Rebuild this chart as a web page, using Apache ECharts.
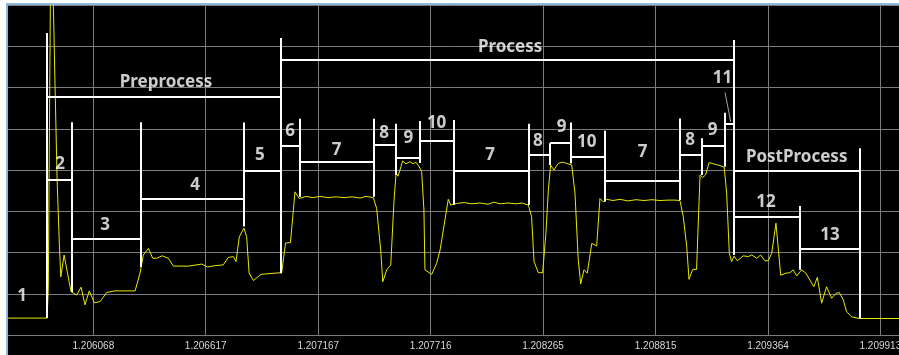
<!DOCTYPE html>
<html>
<head>
<meta charset="utf-8">
<title>Execution phases</title>
<script src="https://cdn.jsdelivr.net/npm/echarts@6/dist/echarts.min.js"></script>
<style>
  html, body { margin: 0; padding: 0; background: #ffffff; width: 899px; height: 355px; overflow: hidden; }
  #frame { position: absolute; left: 6px; top: 3px; border-left: 2px solid #8cb8de; border-top: 2px solid #8cb8de; background: #000; }
  #chart { width: 891px; height: 352px; }
</style>
</head>
<body>
<div id="frame"><div id="chart"></div></div>
<script>
// Time axis in microseconds; tick labels shown in seconds.
const tickLabels = ['1.206068', '1.206617', '1.207167', '1.207716', '1.208265', '1.208815', '1.209364', '1.209913'];
const tickValues = tickLabels.map(s => Math.round(parseFloat(s) * 1e6));
const timeMin = 1205651;
const timeMax = 1210004;

// Measured trace: [time (us), level]
const signal = [
  [1205651, 4.1], [1205842, 4.1], [1205848, 11.6], [1205859, 88.5], [1205869, 88.5], [1205881, 60.1],
  [1205891, 37.6], [1205902, 21.8], [1205909, 14.1], [1205925, 19.4], [1205959, 10.5], [1205987, 9.7],
  [1206008, 11.6], [1206027, 7.3], [1206048, 10.7], [1206073, 7.8], [1206101, 8.1], [1206133, 10.3],
  [1206174, 10.7], [1206223, 10.7], [1206272, 10.7], [1206296, 15.0], [1206312, 19.4], [1206337, 21.0],
  [1206358, 18.6], [1206378, 18.6], [1206404, 19.2], [1206434, 18.6], [1206459, 16.7], [1206532, 16.7],
  [1206598, 17.2], [1206625, 16.5], [1206662, 16.8], [1206703, 17.0], [1206727, 18.8], [1206752, 19.0],
  [1206765, 17.8], [1206781, 23.8], [1206804, 25.9], [1206817, 23.8], [1206829, 15.0], [1206850, 13.2],
  [1206887, 14.7], [1206956, 15.0], [1206988, 15.1], [1207007, 22.3], [1207031, 22.4], [1207053, 34.7],
  [1207074, 33.1], [1207107, 33.6], [1207141, 33.3], [1207175, 33.6], [1207214, 33.3], [1207254, 33.5],
  [1207293, 33.3], [1207332, 33.5], [1207371, 33.2], [1207400, 33.6], [1207436, 33.3], [1207452, 30.7],
  [1207472, 20.6], [1207482, 12.9], [1207501, 15.8], [1207521, 17.0], [1207537, 32.7], [1207547, 39.2],
  [1207556, 38.5], [1207566, 40.0], [1207579, 42.2], [1207595, 41.5], [1207615, 42.0], [1207630, 41.5],
  [1207644, 41.9], [1207660, 40.8], [1207672, 39.6], [1207683, 30.3], [1207688, 15.8], [1207721, 14.7],
  [1207745, 17.4], [1207762, 20.6], [1207802, 32.9], [1207814, 31.5], [1207843, 31.9], [1207879, 32.1],
  [1207918, 31.8], [1207957, 32.0], [1207996, 31.7], [1208025, 32.2], [1208055, 31.8], [1208094, 32.0],
  [1208133, 31.8], [1208162, 32.0], [1208193, 31.5], [1208209, 28.7], [1208221, 17.8], [1208242, 15.1],
  [1208263, 15.1], [1208279, 24.7], [1208291, 35.2], [1208302, 41.2], [1208318, 40.0], [1208339, 41.6],
  [1208361, 41.9], [1208380, 41.6], [1208405, 41.2], [1208421, 34.4], [1208437, 18.2], [1208449, 12.4],
  [1208465, 15.8], [1208481, 15.0], [1208503, 22.2], [1208527, 21.6], [1208543, 33.1], [1208559, 32.3],
  [1208576, 32.9], [1208607, 32.6], [1208641, 32.9], [1208680, 32.5], [1208719, 32.8], [1208758, 32.6],
  [1208797, 32.8], [1208836, 32.6], [1208875, 32.7], [1208909, 32.7], [1208934, 32.6], [1208950, 28.7],
  [1208967, 21.4], [1208978, 13.5], [1208996, 15.9], [1209015, 15.9], [1209032, 38.8], [1209045, 38.2],
  [1209059, 38.8], [1209076, 41.8], [1209097, 41.5], [1209121, 41.2], [1209150, 40.7], [1209162, 34.4],
  [1209175, 19.8], [1209186, 17.8], [1209198, 19.1], [1209214, 18.0], [1209243, 19.2], [1209268, 19.0],
  [1209284, 19.4], [1209309, 18.6], [1209328, 19.4], [1209349, 18.0], [1209365, 18.0], [1209382, 19.8],
  [1209403, 27.1], [1209426, 14.5], [1209452, 15.0], [1209471, 15.1], [1209487, 15.8], [1209504, 14.3],
  [1209528, 15.8], [1209549, 15.0], [1209569, 13.3], [1209588, 11.7], [1209605, 14.0], [1209626, 7.7],
  [1209650, 11.7], [1209675, 8.9], [1209696, 10.1], [1209712, 10.3], [1209732, 8.5], [1209748, 5.6],
  [1209773, 4.4], [1209810, 4.0], [1210004, 4.0]
];

// Phase spans: [start (us), end (us), bracket level]
const stepSpans = [
  [1205842, 1205964, 37.6], [1205964, 1206300, 23.3], [1206300, 1206801, 33.1], [1206801, 1206985, 39.8],
  [1206985, 1207074, 45.9], [1207074, 1207436, 42.0], [1207436, 1207545, 46.2], [1207545, 1207664, 43.0],
  [1207664, 1207831, 47.0], [1207831, 1208196, 39.8], [1208196, 1208299, 43.6], [1208299, 1208401, 46.5],
  [1208401, 1208568, 43.1], [1208568, 1208934, 37.4], [1208934, 1209040, 43.6], [1209040, 1209152, 45.8],
  [1209152, 1209198, 51.3], [1209198, 1209520, 28.7], [1209520, 1209810, 21.0]
];
const groupSpans = [
  [1205842, 1206985, 57.7],   // Preprocess
  [1206985, 1209198, 66.7],   // Process
  [1209198, 1209810, 39.8]    // PostProcess
];

// Phase boundaries: [time (us), top, bottom]
const boundaries = [
  [1205842, 73.2, 4.1], [1205964, 51.6, 10.4], [1206300, 51.6, 16.5], [1206801, 51.5, 26.3],
  [1206985, 72.0, 15.0], [1207074, 52.4, 33.5], [1207436, 52.4, 33.5], [1207545, 51.2, 38.8],
  [1207664, 51.9, 41.7], [1207831, 52.1, 31.5], [1208196, 51.2, 31.5], [1208299, 46.5, 41.2],
  [1208401, 51.5, 41.6], [1208568, 49.5, 32.3], [1208934, 52.5, 32.7], [1209040, 47.7, 38.8],
  [1209152, 53.9, 40.8], [1209198, 71.5, 19.4], [1209520, 31.3, 15.8], [1209810, 45.3, 4.0]
];

// Phase names: [text, time (us), level]
const phaseLabels = [
  ['1', 1205720, 9.5], ['2', 1205905, 41.5], ['3', 1206125, 26.7], ['4', 1206565, 36.4], ['5', 1206882, 43.6],
  ['Preprocess', 1206423, 61.3], ['Process', 1208104, 69.8],
  ['6', 1207029, 49.3], ['7', 1207257, 44.8], ['8', 1207489, 49.0], ['9', 1207607, 47.8], ['10', 1207745, 51.4],
  ['7', 1208006, 43.6], ['8', 1208240, 47.0], ['9', 1208356, 50.5], ['10', 1208478, 46.8],
  ['7', 1208752, 44.4], ['8', 1208983, 47.3], ['9', 1209094, 49.7], ['11', 1209142, 62.2],
  ['PostProcess', 1209504, 43.2], ['12', 1209354, 32.3], ['13', 1209667, 24.2]
];

// Pointer from the "11" label to its short span
const pointer11 = [[1209154, 58.8], [1209182, 51.7]];

const bracketSegments = [];
stepSpans.concat(groupSpans).forEach(([a, b, lv]) => bracketSegments.push({ coords: [[a, lv], [b, lv]] }));
boundaries.forEach(([t, top, bottom]) => bracketSegments.push({ coords: [[t, top], [t, bottom]] }));

const chart = echarts.init(document.getElementById('chart'), null, { renderer: 'canvas' });
chart.setOption({
  backgroundColor: '#000000',
  animation: false,
  grid: { left: 0, right: 0, top: 0, bottom: 22, containLabel: false, outerBoundsMode: 'none' },
  xAxis: {
    type: 'value',
    min: timeMin,
    max: timeMax,
    axisLine: { show: false },
    axisTick: { show: false, customValues: tickValues },
    splitLine: { show: true, lineStyle: { color: '#7c7c7c', width: 1 } },
    axisLabel: {
      customValues: tickValues,
      formatter: v => tickLabels[tickValues.indexOf(v)],
      color: '#d8d8d8',
      fontSize: 10,
      fontFamily: 'Liberation Sans',
      margin: 6
    }
  },
  yAxis: {
    type: 'value',
    min: 0,
    max: 80,
    interval: 10,
    axisLine: { show: false },
    axisTick: { show: false },
    axisLabel: { show: false },
    splitLine: { show: true, lineStyle: { color: '#7c7c7c', width: 1 } }
  },
  series: [
    {
      type: 'line',
      data: signal,
      showSymbol: false,
      clip: true,
      lineStyle: { color: '#e8e800', width: 1 },
      z: 2
    },
    {
      type: 'lines',
      coordinateSystem: 'cartesian2d',
      data: bracketSegments,
      lineStyle: { color: '#ffffff', width: 2, opacity: 1, curveness: 0 },
      z: 3
    },
    {
      type: 'lines',
      coordinateSystem: 'cartesian2d',
      data: [{ coords: pointer11 }],
      lineStyle: { color: '#a8a8a8', width: 1, opacity: 1, curveness: 0 },
      z: 3
    },
    {
      type: 'scatter',
      data: phaseLabels.map(([txt, t, lv]) => ({ name: txt, value: [t, lv] })),
      symbolSize: 0,
      label: {
        show: true,
        position: 'inside',
        formatter: '{b}',
        color: '#ffffff',
        fontFamily: 'Noto Sans',
        fontWeight: 'bold',
        fontSize: 17
      },
      z: 4
    }
  ]
});
</script>
</body>
</html>
